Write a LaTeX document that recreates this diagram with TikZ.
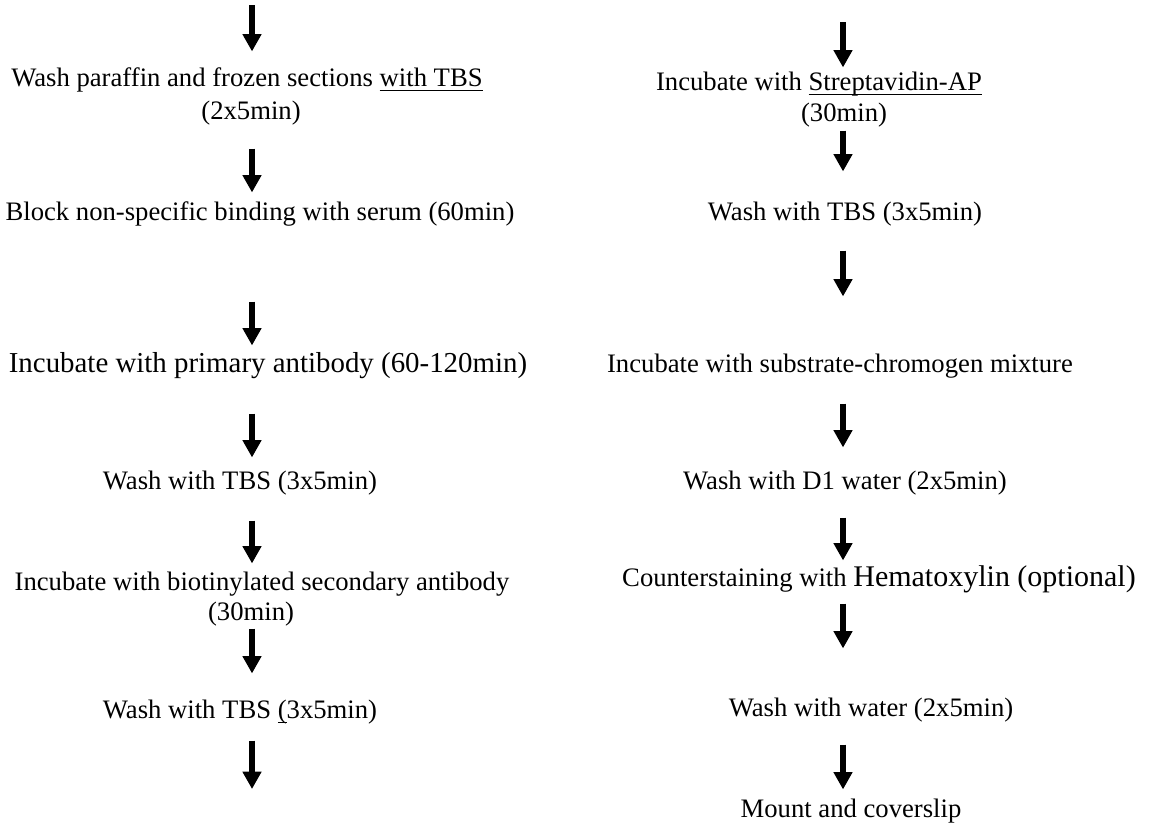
\documentclass[tikz,border=0pt]{standalone}
\usepackage{fontspec}
\setmainfont{Liberation Serif}
\usetikzlibrary{arrows.meta}

\newsavebox{\linedbox}
\newcommand{\lined}[1]{\sbox{\linedbox}{#1}\rlap{\rule[-2.3pt]{\wd\linedbox}{0.5pt}}\usebox{\linedbox}}
\newcommand{\bigtext}{\fontsize{13.5}{16}\selectfont}

\begin{document}
\begin{tikzpicture}[x=0.45pt,y=-0.45pt,
  font=\fontsize{12}{14.4}\selectfont,text depth=0pt,text height=0pt,
  stage/.style={anchor=base,inner sep=0pt},
  flow/.style 2 args={line width=2.7pt,-{Triangle[width=8.1pt,length=7.8pt]},
    shorten <=#1,shorten >=#2}]
\useasboundingbox (0,0) rectangle (1151,822);

% left column
\coordinate (lin)  at (252,  5);
\coordinate (lout) at (252,789);
\node[stage] (l1a) at (247, 86) {Wash paraffin and frozen sections \lined{with TBS}};
\node[stage] (l1b) at (251,119) {(2x5min)};
\node[stage] (l2)  at (260,220) {Block non-specific binding with serum (60min)};
\node[stage] (l3)  at (268,372) {\fontsize{13}{15.6}\selectfont Incubate with primary antibody (60-120min)};
\node[stage] (l4)  at (240,489) {Wash with TBS (3x5min)};
\node[stage] (l5a) at (262,590) {Incubate with biotinylated secondary antibody};
\node[stage] (l5b) at (251,620) {(30min)};
\node[stage] (l6)  at (240,718) {Wash with TBS \lined{(}3x5min)};

% right column
\coordinate (rin)  at (843, 22);
\node[stage] (r1a) at (819, 90) {Incubate with \lined{Streptavidin-AP}};
\node[stage] (r1b) at (844,121) {(30min)};
\node[stage] (r2)  at (845,220) {Wash with TBS (3x5min)};
\node[stage] (r3)  at (840,372) {Incubate with substrate-chromogen mixture};
\node[stage] (r4)  at (845,489) {Wash with D1 water (2x5min)};
\node[stage] (r5)  at (879,586) {Counterstaining with {\bigtext Hematoxylin (optional)}};
\node[stage] (r6)  at (871,716) {Wash with water (2x5min)};
\node[stage] (r7)  at (851,817) {Mount and coverslip};

% arrows, left
\draw[flow={0pt}{14.85pt}]     (lin) -- (l1a.north -| lin);
\draw[flow={12.6pt}{11.7pt}]   (l1b.south -| lin) -- (l2.north -| lin);
\draw[flow={36pt}{11.25pt}]    (l2.south -| lin) -- (l3.north -| lin);
\draw[flow={18pt}{13.5pt}]     (l3.south -| lin) -- (l4.north -| lin);
\draw[flow={13.5pt}{11.25pt}]  (l4.south -| lin) -- (l5a.north -| lin);
\draw[flow={3.15pt}{19.35pt}]  (l5b.south -| lin) -- (l6.north -| lin);
\draw[flow={9.45pt}{0pt}]      (l6.south -| lin) -- (lout);

% arrows, right
\draw[flow={0pt}{9.45pt}]      (rin) -- (r1a.north -| rin);
\draw[flow={3.6pt}{21.15pt}]   (r1b.south -| rin) -- (r2.north -| rin);
\draw[flow={13.05pt}{33.3pt}]  (r2.south -| rin) -- (r3.north -| rin);
\draw[flow={13.5pt}{18pt}]     (r3.south -| rin) -- (r4.north -| rin);
\draw[flow={12.15pt}{10.8pt}]  (r4.south -| rin) -- (r5.north -| rin);
\draw[flow={7.2pt}{29.7pt}]    (r5.south -| rin) -- (r6.north -| rin);
\draw[flow={12.15pt}{11.7pt}]  (r6.south -| rin) -- (r7.north -| rin);
\end{tikzpicture}
\end{document}
